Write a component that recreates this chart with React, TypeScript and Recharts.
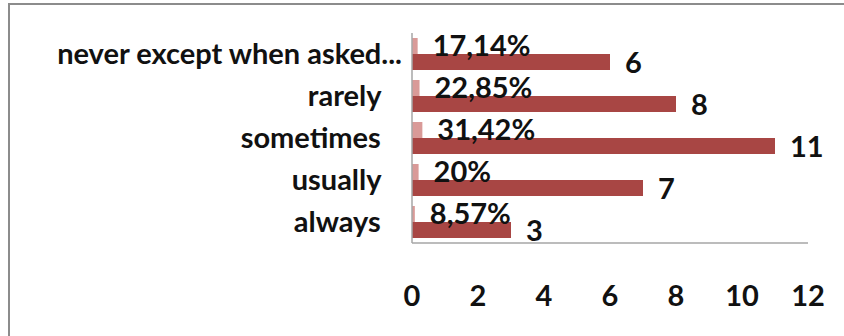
import { BarChart, Bar, XAxis, YAxis, LabelList } from "recharts";

const categories = [
  "never except when asked...",
  "rarely\u00a0\u00a0\u00a0",
  "sometimes\u00a0\u00a0\u00a0",
  "usually\u00a0\u00a0\u00a0",
  "always\u00a0\u00a0\u00a0",
];
const shares = [0.1714, 0.2285, 0.3142, 0.2, 0.0857];
const shareLabels = ["17,14%", "22,85%", "31,42%", "20%", "8,57%"];
const counts = [6, 8, 11, 7, 3];
const xTicks = [0, 2, 4, 6, 8, 10, 12];

const data = categories.map((name, i) => ({
  name,
  share: shares[i],
  shareLabel: shareLabels[i],
  count: counts[i],
}));

const font = "Lato, 'DejaVu Sans', sans-serif";
const textStyle = { fontFamily: font, fontSize: 29, fontWeight: 700, fill: "#111" };

export default function App() {
  return (
    <div
      style={{
        position: "absolute",
        left: 0,
        top: 0,
        width: 844,
        height: 336,
        overflow: "hidden",
        background: "#fff",
      }}
    >
      <div
        style={{
          position: "absolute",
          left: 8,
          top: 3,
          width: 860,
          height: 360,
          border: "2px solid #8c8c8c",
        }}
      />
      <div style={{ position: "absolute", left: 0, top: 0 }}>
        <BarChart
          width={844}
          height={336}
          data={data}
          layout="vertical"
          margin={{ top: 33, right: 36, bottom: 0, left: 0 }}
          barCategoryGap={5}
          barGap={0}
        >
          <XAxis
            type="number"
            domain={[0, 12]}
            ticks={xTicks}
            interval={0}
            height={93}
            tickLine={false}
            axisLine={{ stroke: "#a6a6a6", strokeWidth: 1.5 }}
            tickMargin={36}
            tick={textStyle}
          />
          <YAxis
            type="category"
            dataKey="name"
            width={412}
            tickLine={false}
            axisLine={{ stroke: "#a6a6a6", strokeWidth: 1.5 }}
            tickMargin={4}
            tick={textStyle}
            interval={0}
          />
          <Bar dataKey="share" fill="#d99a98" isAnimationActive={false}>
            <LabelList
              dataKey="shareLabel"
              position="right"
              offset={15}
              style={textStyle}
            />
          </Bar>
          <Bar dataKey="count" fill="#a84644" isAnimationActive={false}>
            <LabelList
              dataKey="count"
              position="right"
              offset={15}
              dy={1}
              style={textStyle}
            />
          </Bar>
        </BarChart>
      </div>
    </div>
  );
}
